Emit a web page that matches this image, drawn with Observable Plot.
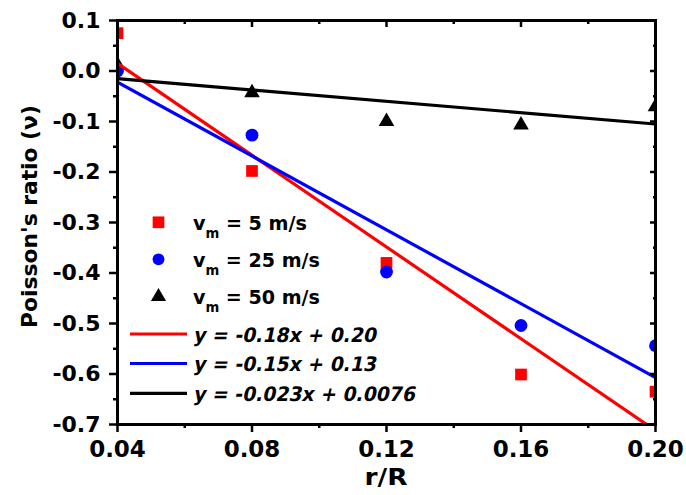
<!DOCTYPE html>
<html>
<head>
<meta charset="utf-8">
<script src="https://cdn.jsdelivr.net/npm/d3@7"></script>
<script src="https://cdn.jsdelivr.net/npm/@observablehq/plot@0.6"></script>
<style>
  html, body { margin: 0; padding: 0; background: #fff; }
  #chart { width: 686px; height: 495px; }
</style>
</head>
<body>
<div id="chart"></div>
<script>
// ---- data ----
const rR = [0.04, 0.08, 0.12, 0.16, 0.20];
const nu5 = [0.075, -0.198, -0.380, -0.601, -0.635];
const nu25 = [0.000, -0.127, -0.398, -0.504, -0.544];
const nu50 = [0.012, -0.043, -0.100, -0.107, -0.071];
const fitX = [0.04, 0.20];
const fit5 = [0.015, -0.712];
const fit25 = [-0.022, -0.607];
const fit50 = [-0.015, -0.105];
const seriesLabels = ["5 m/s", "25 m/s", "50 m/s"];
const fitLabels = ["y = -0.18x + 0.20", "y = -0.15x + 0.13", "y = -0.023x + 0.0076"];
const xMajor = [0.04, 0.08, 0.12, 0.16, 0.20];
const xMinor = [0.06, 0.10, 0.14, 0.18];
const yMajor = [0.1, 0.0, -0.1, -0.2, -0.3, -0.4, -0.5, -0.6, -0.7];
const yMinor = [0.05, -0.05, -0.15, -0.25, -0.35, -0.45, -0.55, -0.65];
const colors = ["#ff0000", "#0000ff", "#000000"];
const symbols = ["square", "circle", "triangle"];

const pts = (ys) => rR.map((x, i) => ({x, y: ys[i]}));
const fit = (ys) => fitX.map((x, i) => ({x, y: ys[i]}));

const W = 686, H = 495;
const M = {left: 117, right: 31, top: 20, bottom: 71};
const font = "'DejaVu Sans', Verdana, sans-serif";

const tickW = 2.5;
const fmtY = d => d3.format(".1f")(d).replace("\u2212", "-");
const plot = Plot.plot({
  width: W, height: H,
  marginLeft: M.left, marginRight: M.right, marginTop: M.top, marginBottom: M.bottom,
  x: {domain: [0.04, 0.20]},
  y: {domain: [-0.7, 0.1]},
  style: {fontFamily: font, fontWeight: "bold", fontSize: "22px", color: "#000", background: "#fff"},
  marks: [
    // points
    Plot.dot(pts(nu5), {x: "x", y: "y", symbol: () => "square", fill: colors[0], r: 6.6, clip: true}),
    Plot.dot(pts(nu50), {x: "x", y: "y", symbol: () => "triangle", fill: colors[2], r: 5.8, clip: true}),
    Plot.dot(pts(nu25), {x: "x", y: "y", symbol: () => "circle", fill: colors[1], r: 6.4, clip: true}),
    // fit lines
    Plot.line(fit(fit5), {x: "x", y: "y", stroke: colors[0], strokeWidth: 3.2, clip: true}),
    Plot.line(fit(fit25), {x: "x", y: "y", stroke: colors[1], strokeWidth: 3.2, clip: true}),
    Plot.line(fit(fit50), {x: "x", y: "y", stroke: colors[2], strokeWidth: 3.2, clip: true}),
    // axes: bottom (outward)
    Plot.axisX({ticks: xMajor, tickSize: 8, strokeWidth: tickW, text: null, label: null}),
    Plot.axisX({ticks: xMinor, tickSize: 4, strokeWidth: tickW, text: null, label: null}),
    // top (inward)
    Plot.axisX({anchor: "top", ticks: xMajor, tickSize: -6, strokeWidth: tickW, text: null, label: null}),
    Plot.axisX({anchor: "top", ticks: xMinor, tickSize: -3, strokeWidth: tickW, text: null, label: null}),
    // left (outward)
    Plot.axisY({ticks: yMajor, tickSize: 8, strokeWidth: tickW, text: null, label: null}),
    Plot.axisY({ticks: yMinor, tickSize: 4, strokeWidth: tickW, text: null, label: null}),
    // right (inward)
    Plot.axisY({anchor: "right", ticks: yMajor, tickSize: -6, strokeWidth: tickW, text: null, label: null}),
    Plot.axisY({anchor: "right", ticks: yMinor, tickSize: -3, strokeWidth: tickW, text: null, label: null}),
    // tick labels
    Plot.text(xMajor, {x: d => d, frameAnchor: "bottom", dy: 16, lineAnchor: "top", text: d => d3.format(".2f")(d),
      fontSize: 23, fontWeight: "bold", fill: "#000"}),
    Plot.text(yMajor, {y: d => d, frameAnchor: "left", dx: -17, textAnchor: "end", lineAnchor: "middle", text: fmtY,
      fontSize: 22, fontWeight: "bold", fill: "#000"}),
    Plot.frame({stroke: "#000", strokeWidth: 3})
  ]
});

document.getElementById("chart").appendChild(plot);

// scale a text element horizontally (along its own baseline) to a target width
function fitText(sel, target, base) {
  const node = sel.node();
  const w = node.getComputedTextLength ? node.getComputedTextLength() : 0;
  const s = w > 0 ? target / w : 1;
  sel.attr("transform", `${base} scale(${s}, 1)`);
}

// ---- axis titles and legend ----
const svg = d3.select(plot);
const xt = svg.append("text")
  .attr("text-anchor", "middle")
  .style("font-family", font).style("font-weight", "bold").style("font-size", "23px")
  .attr("fill", "#000")
  .text("r/R");
fitText(xt, 43, `translate(${(M.left + (W - M.right)) / 2}, 485)`);
const yt = svg.append("text")
  .attr("text-anchor", "middle")
  .style("font-family", font).style("font-weight", "bold").style("font-size", "22px")
  .attr("fill", "#000")
  .text("Poisson's ratio (ν)");
fitText(yt, 223, `translate(37, 216.5) rotate(-90)`);

const lg = svg.append("g").attr("text-anchor", "start");
const symRow = [222.3, 259.3, 296.7];
const symBase = [230, 267, 304];
const symSize = [137, 110, 100];
const symTextW = [114, 127, 127];
symbols.forEach((s, i) => {
  const sym = s === "square" ? d3.symbolSquare : s === "circle" ? d3.symbolCircle : d3.symbolTriangle;
  lg.append("path")
    .attr("d", d3.symbol(sym, symSize[i])())
    .attr("transform", `translate(158.5, ${symRow[i]})`)
    .attr("fill", colors[i]);
  const t = lg.append("text")
    .attr("x", 0).attr("y", 0)
    .attr("text-anchor", "start")
    .style("font-family", font).style("font-weight", "bold").style("font-size", "19.5px")
    .attr("fill", "#000");
  t.append("tspan").text("v");
  t.append("tspan").attr("dy", 8).style("font-size", "13.5px").text("m");
  t.append("tspan").attr("dy", -8).text(" = " + seriesLabels[i]);
  fitText(t, symTextW[i], `translate(193, ${symBase[i]})`);
});
const lineRow = [334, 363.5, 393.3];
const eqWidth = [183, 183, 222];
fitLabels.forEach((f, i) => {
  lg.append("line")
    .attr("x1", 130).attr("x2", 187).attr("y1", lineRow[i]).attr("y2", lineRow[i])
    .attr("stroke", colors[i]).attr("stroke-width", 3.2);
  const t = lg.append("text")
    .attr("text-anchor", "start")
    .style("font-family", font).style("font-weight", "bold").style("font-size", "20px")
    .attr("fill", "#000")
    .text(f);
  fitText(t, eqWidth[i], `translate(193, ${lineRow[i] + 7.5}) skewX(-12)`);
});
</script>
</body>
</html>
